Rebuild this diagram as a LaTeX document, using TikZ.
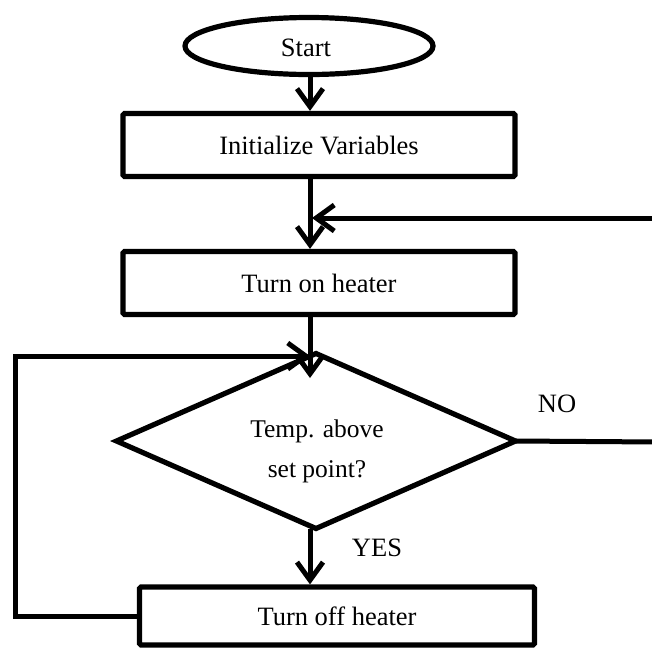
\documentclass[tikz,border=0pt]{standalone}
\usepackage{fontspec}
\setmainfont{Liberation Serif}
\usetikzlibrary{shapes.geometric,arrows.meta}
\begin{document}
\begin{tikzpicture}[x=1pt,y=-1pt,
  font=\fontsize{26.5}{40}\selectfont,
  box/.style={draw,line width=5.2pt,rounded corners=1.5pt,inner sep=0pt},
  term/.style={draw,ellipse,line width=5.2pt,inner sep=0pt},
  decision/.style={draw,diamond,line width=5.2pt,inner sep=0pt,outer sep=0pt},
  conn/.style={line width=5pt},
  arr/.style={conn,-{Straight Barb[length=18pt,width=26pt]}},
  lbl/.style={inner sep=0pt,align=center}]
\useasboundingbox (0,0) rectangle (652,649);
\coordinate (sp) at (310,0);
\coordinate (lt) at (15,356);
\coordinate (rtop) at (660,218);
\coordinate (rno) at (660,442);
\coordinate (dtip) at (310,378);

\node[term,minimum width=248pt,minimum height=57pt] (start) at (309,46) {};
\node[lbl] (starttxt) at (306,48) {Start};
\node[box,minimum width=392pt,minimum height=63pt] (init) at (319,145) {Initialize Variables};
\node[box,minimum width=392pt,minimum height=63pt] (heat) at (319,283) {Turn on heater};
\node[decision,minimum width=399pt,minimum height=175pt] (dec) at (316,441) {};
\node[lbl,font=\fontsize{25.5}{40}\selectfont] (dectxt) at (317,451) {Temp. above\\set point?};
\node[box,minimum width=395pt,minimum height=58pt] (off) at (337,616) {Turn off heater};
\node[lbl] (no) at (557,404) {NO};
\node[lbl] (yes) at (377,548) {YES};

\draw[arr] (start.south -| sp) -- (init.north -| sp);
\draw[arr] (init.south -| sp) -- (heat.north -| sp);
\draw[arr,shorten >=2pt] (rtop) -- (rtop -| sp);
\draw[arr] (heat.south -| sp) -- (dtip);
\draw[conn] (dec.east) -- (rno);
\draw[arr] (dec.south -| sp) -- (off.north -| sp);
\draw[arr,line join=miter] (off.west) -- (off.west -| lt) -- (lt) -- (lt -| sp);
\end{tikzpicture}
\end{document}
